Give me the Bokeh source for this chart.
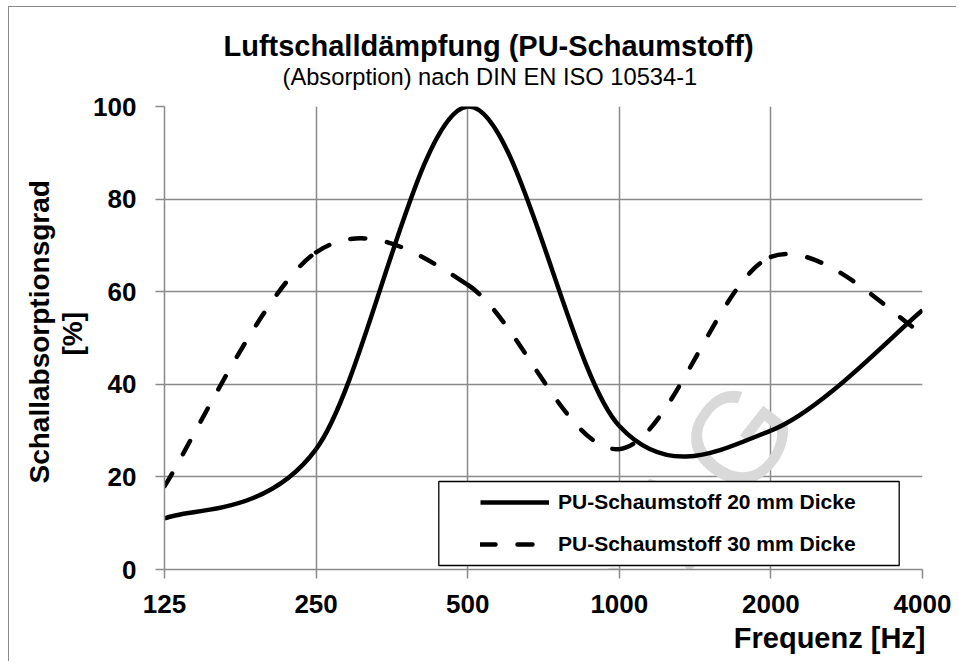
import math
from bokeh.plotting import figure
from bokeh.models import (Range1d, FixedTicker, Label, Legend, LegendItem, Title,
                          BoxAnnotation, PrintfTickFormatter, ColumnDataSource)
from bokeh.embed import file_html
from bokeh.resources import INLINE

# ---------------- data ----------------
freqs = [125, 250, 500, 1000, 2000, 4000]
freq_labels = ["125", "250", "500", "1000", "2000", "4000"]
pu20 = [11, 26, 100, 31, 30, 56]
pu30 = [18, 68.5, 61.5, 26, 67.5, 51]
y_ticks = [0, 20, 40, 60, 80, 100]
series_names = ["PU-Schaumstoff 20 mm Dicke", "PU-Schaumstoff 30 mm Dicke"]
title_text = "Luftschalldämpfung (PU-Schaumstoff)"
subtitle_text = "(Absorption) nach DIN EN ISO 10534-1"
y_title_lines = ["Schallabsorptionsgrad", "[%]"]
x_title = "Frequenz [Hz]"
watermark_text = "ch AG"

FONT = "Liberation Sans"
GRID = "#8a8a8a"


def smooth_segments(xs, ys):
    """Bezier control points for a smoothed line (like a spreadsheet's smoothed line)."""
    u = [math.log(x) for x in xs]
    n = len(xs)
    seg = dict(x0=[], y0=[], x1=[], y1=[], cx0=[], cy0=[], cx1=[], cy1=[])
    for i in range(n - 1):
        im = max(i - 1, 0)
        ip2 = min(i + 2, n - 1)
        seg["x0"].append(xs[i]); seg["y0"].append(ys[i])
        seg["x1"].append(xs[i + 1]); seg["y1"].append(ys[i + 1])
        seg["cx0"].append(math.exp(u[i] + (u[i + 1] - u[im]) / 6))
        seg["cy0"].append(ys[i] + (ys[i + 1] - ys[im]) / 6)
        seg["cx1"].append(math.exp(u[i + 1] - (u[ip2] - u[i]) / 6))
        seg["cy1"].append(ys[i + 1] - (ys[ip2] - ys[i]) / 6)
    return seg


p = figure(width=948, height=655, x_axis_type="log",
           x_range=Range1d(125, 4000), y_range=Range1d(0, 100),
           output_backend="svg", toolbar_location=None, title=None,
           min_border_left=155, min_border_right=35,
           min_border_top=99, min_border_bottom=93)
p.outline_line_color = None
p.background_fill_color = "white"
p.border_fill_color = "white"
p.styles = {"margin-left": "8px", "margin-top": "6px",
            "border-left": "1px solid #8a8a8a", "border-top": "1px solid #8a8a8a"}

# axes
p.xaxis.ticker = FixedTicker(ticks=freqs)
p.xaxis.formatter = PrintfTickFormatter(format="%d")
p.xaxis.major_label_overrides = {f: l for f, l in zip(freqs, freq_labels)}
p.yaxis.ticker = FixedTicker(ticks=y_ticks)
for ax in (p.xaxis[0], p.yaxis[0]):
    ax.major_label_text_font = FONT
    ax.major_label_text_font_style = "bold"
    ax.major_label_text_font_size = "26px"
    ax.major_label_text_color = "black"
    ax.axis_line_color = GRID
    ax.axis_line_width = 1.5
    ax.major_tick_line_color = GRID
    ax.major_tick_line_width = 1.5
    ax.major_tick_out = 9
    ax.major_tick_in = 0
    ax.minor_tick_line_color = None
p.yaxis.major_label_standoff = 19
p.xaxis.major_label_standoff = 16

p.grid.grid_line_color = GRID
p.grid.grid_line_width = 1.5

# watermark
p.add_layout(Label(x=2023, y=38.3, text=watermark_text, angle=math.radians(52),
                   text_align="right", text_baseline="middle",
                   text_font=FONT, text_font_size="130px", text_color="#d9d9d9",
                   level="underlay"))

# curves
src20 = ColumnDataSource(smooth_segments(freqs, pu20))
src30 = ColumnDataSource(smooth_segments(freqs, pu30))
r20 = p.bezier(x0="x0", y0="y0", x1="x1", y1="y1", cx0="cx0", cy0="cy0",
               cx1="cx1", cy1="cy1", source=src20, line_color="black",
               line_width=4.5)
r30 = p.bezier(x0="x0", y0="y0", x1="x1", y1="y1", cx0="cx0", cy0="cy0",
               cx1="cx1", cy1="cy1", source=src30, line_color="black",
               line_width=4.5, line_dash="15 22", line_cap="round")

# legend box + legend
p.add_layout(BoxAnnotation(left=274.3, right=734.7, top=88, bottom=4,
                           left_units="screen", right_units="screen",
                           top_units="screen", bottom_units="screen",
                           fill_color="white", fill_alpha=1,
                           line_color="black", line_width=1.3, line_alpha=1))
legend = Legend(items=[LegendItem(label=series_names[0], renderers=[r20]),
                       LegendItem(label=series_names[1], renderers=[r30])],
                location=(316, 4), padding=0, spacing=0, margin=0,
                glyph_width=69, glyph_height=42, label_height=42,
                label_standoff=9, border_line_alpha=0,
                background_fill_alpha=0,
                label_text_font=FONT, label_text_font_style="bold",
                label_text_font_size="21px", label_text_color="black")
p.add_layout(legend)

# titles (nearest to the frame first)
p.add_layout(Title(text=subtitle_text, align="left", offset=118,
                   vertical_align="bottom", standoff=33,
                   text_font=FONT, text_font_style="normal",
                   text_font_size="23.7px", text_color="black"), "above")
p.add_layout(Title(text=title_text, align="left", offset=59,
                   vertical_align="bottom", standoff=-32,
                   text_font=FONT, text_font_style="bold",
                   text_font_size="29px", text_color="black"), "above")

p.add_layout(Title(text=y_title_lines[1], align="left", offset=214,
                   vertical_align="bottom", standoff=5,
                   text_font=FONT, text_font_style="bold",
                   text_font_size="28px", text_color="black"), "left")
p.add_layout(Title(text=y_title_lines[0], align="left", offset=86,
                   vertical_align="bottom", standoff=-5,
                   text_font=FONT, text_font_style="bold",
                   text_font_size="28px", text_color="black"), "left")

p.add_layout(Title(text=x_title, align="right", offset=-3,
                   vertical_align="top", standoff=12,
                   text_font=FONT, text_font_style="bold",
                   text_font_size="29px", text_color="black"), "below")

open("out.html", "w").write(file_html(p, INLINE))
